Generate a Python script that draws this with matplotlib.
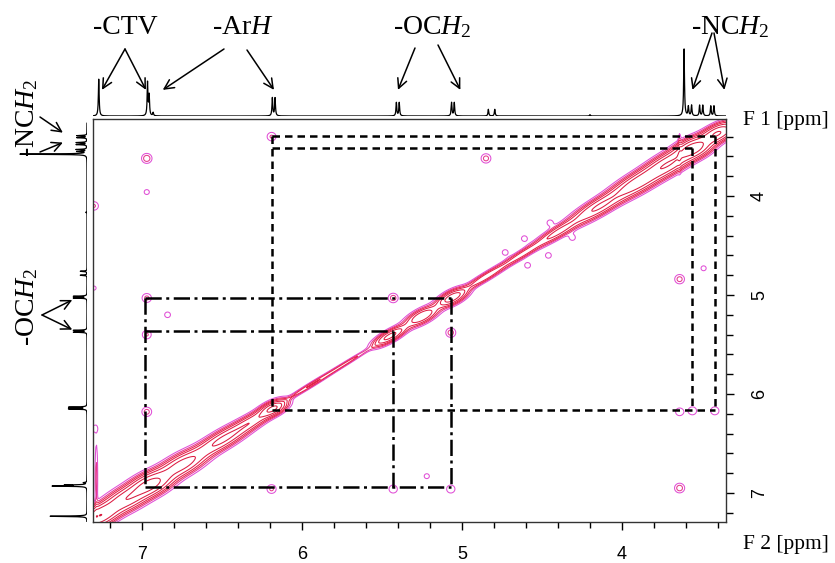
import numpy as np
import matplotlib
matplotlib.use('Agg')
import matplotlib.pyplot as plt

plt.rcParams['font.family'] = ['Liberation Serif', 'DejaVu Serif']
plt.rcParams['mathtext.fontset'] = 'custom'
plt.rcParams['mathtext.rm'] = 'Liberation Serif'
plt.rcParams['mathtext.it'] = 'Liberation Serif:italic'

# 一维氢谱: 峰位置 (ppm) 与相对高度
peak_ppm = [7.270, 6.965, 6.955, 6.930, 6.185, 6.168, 5.410, 5.392, 5.065, 5.048,
            4.835, 4.795, 4.200, 3.612, 3.585, 3.565, 3.515, 3.495, 3.445, 3.425]
peak_height = [0.55, 0.50, 0.30, 0.05, 0.27, 0.27, 0.20, 0.20, 0.20, 0.20,
               0.10, 0.10, 0.02, 1.00, 0.14, 0.16, 0.16, 0.16, 0.15, 0.15]

# 对角峰: 中心 (ppm), 强度, 沿对角线宽度, 垂直宽度, 双股间距
diag_ppm = [7.27, 7.10, 6.95, 6.75, 6.50, 6.30, 6.18, 5.95, 5.72, 5.45, 5.25, 5.06,
            4.85, 4.62, 4.40, 4.15, 3.90, 3.70, 3.55, 3.40]
diag_amp = [22, 18, 25, 16, 14, 10, 18, 5, 4, 14, 12, 16, 7, 6, 9, 14, 18, 20, 25, 22]
diag_len = [0.10, 0.10, 0.10, 0.12, 0.14, 0.12, 0.06, 0.14, 0.14, 0.08, 0.08, 0.07,
            0.12, 0.12, 0.12, 0.14, 0.14, 0.12, 0.08, 0.08]
diag_wid = [0.040, 0.045, 0.045, 0.042, 0.036, 0.030, 0.030, 0.012, 0.010, 0.025, 0.030, 0.030,
            0.018, 0.018, 0.024, 0.032, 0.038, 0.040, 0.040, 0.034]
diag_split = [0.03, 0.03, 0.03, 0.028, 0.022, 0.016, 0.01, 0, 0, 0.01, 0.015, 0.01,
              0.008, 0.008, 0.014, 0.022, 0.026, 0.028, 0.028, 0.022]
diag_shift = 0.035  # F1 相对 F2 的偏移

# 交叉峰 (F2, F1, 强度)
cross_f2 = [6.97, 6.97, 7.30, 7.30, 6.97, 6.84, 6.97, 6.97, 6.19, 6.19, 5.43, 5.07, 5.43,
            5.07, 5.22, 4.85, 3.64, 3.49, 3.64, 3.56, 3.42, 3.64, 7.30,
            4.61, 4.45, 4.31, 4.46, 4.73, 4.59]
cross_f1 = [3.62, 3.96, 4.10, 4.93, 5.03, 5.20, 5.40, 6.18, 3.40, 6.96, 5.03, 5.38, 6.96,
            6.96, 6.83, 3.62, 4.84, 4.73, 6.18, 6.17, 6.17, 6.95, 6.35,
            4.43, 4.27, 4.42, 4.60, 4.57, 4.70]
cross_amp = [3.0, 1.3, 2.2, 1.2, 2.4, 1.4, 2.2, 2.6, 2.2, 2.3, 2.7, 2.7, 2.0,
             2.0, 1.3, 2.6, 2.6, 1.3, 1.9, 2.0, 2.0, 2.8, 1.6,
             1.4, 1.4, 1.4, 1.4, 1.4, 1.4]

# t1 噪声条纹 (F2, F1, 强度, F2 宽度, F1 长度)
streak_f2 = [7.285, 3.640]
streak_f1 = [6.85, 3.55]
streak_amp = [2.5, 3.0]
streak_sx = [0.006, 0.006]
streak_sy = [0.25, 0.12]

# 相关连线用的化学位移
arh_f2, arh_f1 = 6.19, 6.16
nch2_f2 = [3.56, 3.42]
nch2_f1 = [3.52, 3.39]
ctv_f2, ctv_f1 = 6.98, 6.94
och2_f2 = [5.43, 5.07]
och2_f1 = [5.36, 5.03]

# 坐标轴刻度
x_major = [7, 6, 5, 4]
y_major = [4, 5, 6, 7]

# 标注
top_labels = ['-CTV', '-Ar$H$', '-OC$H_2$', '-NC$H_2$']
top_arrow_ppm = [[7.25, 6.975], [6.87, 6.175], [5.40, 5.01], [3.56, 3.36]]
left_labels = ['-NC$H_2$', '-OC$H_2$']
left_arrow_ppm = [[3.36, 3.46], [5.05, 5.35]]

W, H = 835, 563


def box(l, t, r, b):
    return [l / W, 1 - b / H, (r - l) / W, (b - t) / H]


def spectrum(grid):
    s = np.zeros_like(grid)
    for p, h in zip(peak_ppm, peak_height):
        s += h / (1 + ((grid - p) / 0.003) ** 2)
    return s


def draw():
    fig = plt.figure(figsize=(W / 100, H / 100), dpi=100)
    ax = fig.add_axes(box(93, 119, 726, 522))
    ax_top = fig.add_axes(box(93, 46, 726, 116))
    ax_left = fig.add_axes(box(17, 119, 87, 522))

    xlim = (7.306, 3.35)
    ylim = (7.293, 3.222)

    # 二维 COSY 等高线
    f2 = np.linspace(3.35, 7.31, 900)
    f1 = np.linspace(3.22, 7.30, 900)
    X, Y = np.meshgrid(f2, f1)
    Z = np.zeros_like(X)
    u_all = (X + Y + diag_shift) / np.sqrt(2)
    v = (X - Y - diag_shift) / np.sqrt(2)
    for c, a, sl, sp, d in zip(diag_ppm, diag_amp, diag_len, diag_wid, diag_split):
        u = u_all - c * np.sqrt(2)
        ridge = np.exp(-0.5 * (u / sl) ** 2)
        if d > 0:
            Z += 0.6 * a * ridge * (np.exp(-0.5 * ((v - d) / sp) ** 2) + np.exp(-0.5 * ((v + d) / sp) ** 2))
        else:
            Z += a * ridge * np.exp(-0.5 * (v / sp) ** 2)
    for x0, y0, a in zip(cross_f2, cross_f1, cross_amp):
        Z += a * np.exp(-0.5 * ((X - x0) / 0.022) ** 2 - 0.5 * ((Y - y0) / 0.034) ** 2)
    for x0, y0, a, sx, sy in zip(streak_f2, streak_f1, streak_amp, streak_sx, streak_sy):
        Z += a * np.exp(-0.5 * ((X - x0) / sx) ** 2 - 0.5 * ((Y - y0) / sy) ** 2)

    levels = [1.0, 2.0, 3.2, 5.0, 8.0, 13.0, 21.0]
    colors = ['#e04ed6', '#e63c8c', '#e8244e', '#e3204a', '#e01e46', '#dc1c42', '#d81a3e']
    ax.contour(X, Y, Z, levels=levels, colors=colors, linewidths=0.75)

    # 虚线: ArH 与 NCH2 的相关
    dkw = dict(color='k', lw=1.8, ls=(0, (3, 2)))
    ax.plot([arh_f2, arh_f2], [nch2_f1[1], arh_f1], **dkw)
    ax.plot([arh_f2, nch2_f2[1]], [nch2_f1[1], nch2_f1[1]], **dkw)
    ax.plot([arh_f2, nch2_f2[0]], [nch2_f1[0], nch2_f1[0]], **dkw)
    ax.plot([nch2_f2[0], nch2_f2[0]], [nch2_f1[0], arh_f1], **dkw)
    ax.plot([nch2_f2[1], nch2_f2[1]], [nch2_f1[1], arh_f1], **dkw)
    ax.plot([arh_f2, nch2_f2[1]], [arh_f1, arh_f1], **dkw)

    # 点划线: CTV 与 OCH2 的相关
    ckw = dict(color='k', lw=1.8, ls=(0, (6.5, 1.8, 1.2, 1.8)))
    ax.plot([ctv_f2, ctv_f2], [och2_f1[1], ctv_f1], **ckw)
    ax.plot([ctv_f2, och2_f2[1]], [och2_f1[1], och2_f1[1]], **ckw)
    ax.plot([ctv_f2, och2_f2[0]], [och2_f1[0], och2_f1[0]], **ckw)
    ax.plot([och2_f2[0], och2_f2[0]], [och2_f1[0], ctv_f1], **ckw)
    ax.plot([och2_f2[1], och2_f2[1]], [och2_f1[1], ctv_f1], **ckw)
    ax.plot([ctv_f2, och2_f2[1]], [ctv_f1, ctv_f1], **ckw)

    ax.set_xlim(*xlim)
    ax.set_ylim(*ylim)
    ax.set_xticks(x_major)
    ax.set_xticks(np.arange(3.4, 7.31, 0.2), minor=True)
    ax.set_yticks(y_major)
    ax.set_yticks(np.arange(3.4, 7.3, 0.2), minor=True)
    ax.yaxis.tick_right()
    ax.tick_params(axis='x', which='major', direction='out', length=6, width=1,
                   labelsize=13, pad=11, labelfontfamily='Liberation Sans')
    ax.tick_params(axis='x', which='minor', direction='out', length=4, width=1)
    ax.tick_params(axis='y', which='major', direction='out', length=6, width=1,
                   labelsize=13, pad=12, labelrotation=90, labelfontfamily='Liberation Sans')
    ax.tick_params(axis='y', which='minor', direction='out', length=5, width=1)
    for lbl in ax.get_yticklabels():
        lbl.set_va('center')
    for sp in ax.spines.values():
        sp.set_linewidth(1.0)
        sp.set_color('#333333')

    # 一维投影谱
    g = np.linspace(3.3, 7.35, 8000)
    s = spectrum(g)
    ax_top.plot(g, s, color='k', lw=0.9)
    ax_top.set_xlim(*xlim)
    ax_top.set_ylim(0, 1.045)
    ax_top.axis('off')

    ax_left.plot(s, g - diag_shift, color='k', lw=0.9)
    ax_left.set_ylim(*ylim)
    ax_left.set_xlim(1.045, 0)
    ax_left.axis('off')

    # 标注文字与箭头
    akw = dict(arrowstyle='->', lw=1.1, color='k', shrinkA=0, shrinkB=0, mutation_scale=17)
    top_text_x = [125, 243, 432, 730]
    top_tails = [[(125, 49), (125, 49)], [(224, 49), (247, 50)],
                 [(415, 48), (438, 45)], [(712, 33), (714, 33)]]
    for lab, tx, tips, tails in zip(top_labels, top_text_x, top_arrow_ppm, top_tails):
        fig.text(tx / W, 1 - 34 / H, lab, fontsize=20, ha='center', va='baseline')
        for p, (px, py) in zip(tips, tails):
            ax_top.annotate('', xy=(p, 0.39), xycoords='data', xytext=(px, H - py),
                            textcoords='figure pixels', arrowprops=akw)

    left_text_y = [118, 307]
    left_tails = [[(40, 117), (40, 152)], [(42, 315), (42, 315)]]
    left_tip_h = [0.36, 0.22]
    for lab, ty, tips, tails, th in zip(left_labels, left_text_y, left_arrow_ppm, left_tails, left_tip_h):
        fig.text(27 / W, 1 - ty / H, lab, fontsize=20, ha='center', va='center', rotation=90)
        for p, (px, py) in zip(tips, tails):
            ax_left.annotate('', xy=(th, p), xycoords='data', xytext=(px, H - py),
                             textcoords='figure pixels', arrowprops=akw)

    fig.text(743 / W, 1 - 121 / H, 'F 1 [ppm]', fontsize=15.5, ha='left', va='center')
    fig.text(743 / W, 1 - 545 / H, 'F 2 [ppm]', fontsize=15.5, ha='left', va='center')

    fig.savefig('out.png', dpi=100)


if __name__ == '__main__':
    draw()
